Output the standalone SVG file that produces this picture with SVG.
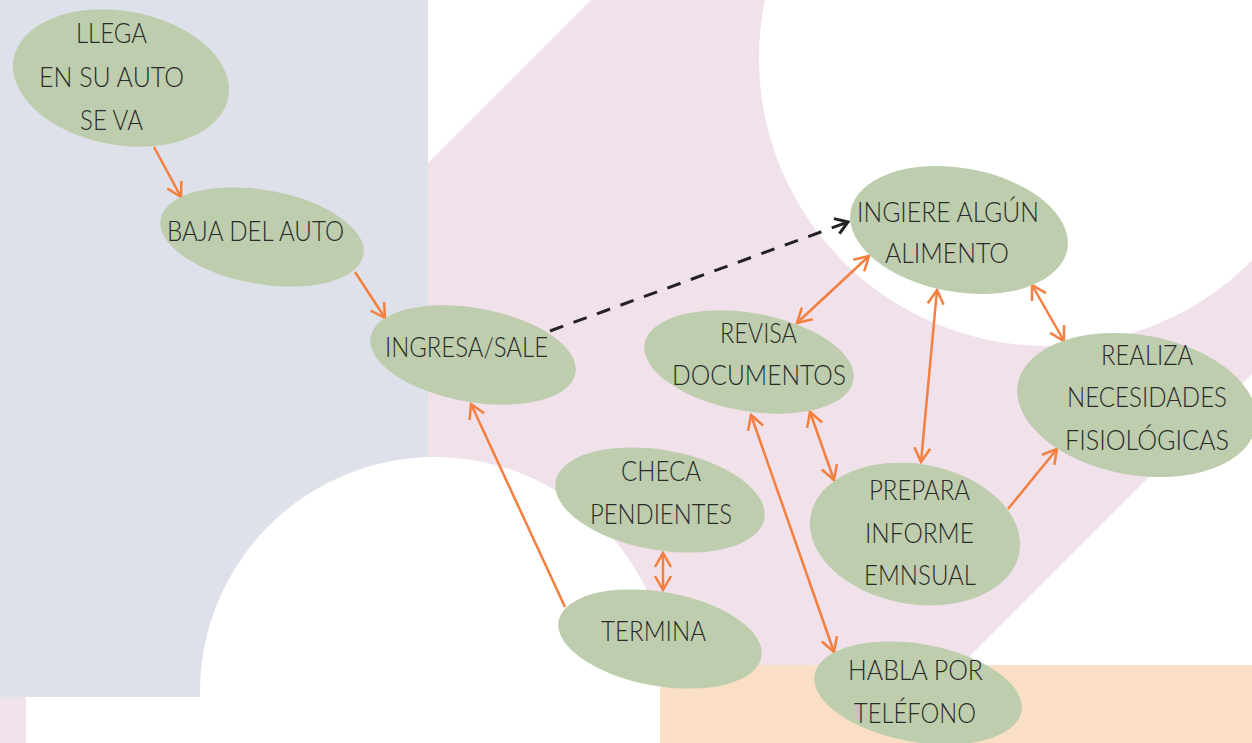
<svg xmlns="http://www.w3.org/2000/svg" width="1252" height="743" viewBox="0 0 1252 743">
<style>
.bg-blue{fill:#dee1ea}
.bg-pink{fill:#f1e1eb}
.bg-white{fill:#ffffff}
.bg-peach{fill:#fadfc6}
.node ellipse{fill:#bdcdad}
.node text{font-family:Lato,"Liberation Sans",sans-serif;font-weight:300;font-size:27px;fill:#2a2a2a;text-anchor:middle}
.conn{fill:none;stroke:#f47f3f;stroke-width:2.5}
.dash{fill:none;stroke:#222222;stroke-width:3;stroke-dasharray:14 11}
</style>
<defs>
<marker id="arr" viewBox="-17 -11 20 22" markerWidth="20" markerHeight="22" refX="0" refY="0" markerUnits="userSpaceOnUse" orient="auto-start-reverse">
<path d="M-14,-8 L0,0 L-14,8" fill="none" stroke="#f47f3f" stroke-width="2.5"/>
</marker>
<marker id="arrk" viewBox="-17 -11 20 22" markerWidth="20" markerHeight="22" refX="0" refY="0" markerUnits="userSpaceOnUse" orient="auto">
<path d="M-12,-8 L0,0 L-12,8" fill="none" stroke="#222222" stroke-width="3"/>
</marker>
</defs>
<g id="background">
<rect class="bg-white" x="0" y="0" width="1252" height="743"/>
<polygon class="bg-pink" points="591,0 1252,0 1252,374 883,743 0,743 0,591"/>
<rect class="bg-blue" x="0" y="0" width="428" height="697"/>
<circle class="bg-white" cx="1047" cy="58" r="288"/>
<circle class="bg-white" cx="435" cy="692" r="235"/>
<rect class="bg-white" x="26" y="697" width="640" height="46"/>
<rect class="bg-peach" x="660" y="665" width="592" height="78"/>
</g>
<g id="connectors">
<line class="conn" x1="154" y1="147" x2="181" y2="197" marker-end="url(#arr)"/>
<line class="conn" x1="355" y1="272" x2="385" y2="318" marker-end="url(#arr)"/>
<line class="dash" x1="550" y1="331" x2="848" y2="222" marker-end="url(#arrk)"/>
<line class="conn" x1="565" y1="607" x2="471" y2="404" marker-end="url(#arr)"/>
<line class="conn" x1="797" y1="323" x2="869" y2="256" marker-start="url(#arr)" marker-end="url(#arr)"/>
<line class="conn" x1="937" y1="290" x2="921" y2="462" marker-start="url(#arr)" marker-end="url(#arr)"/>
<line class="conn" x1="1032" y1="285" x2="1064" y2="341" marker-start="url(#arr)" marker-end="url(#arr)"/>
<line class="conn" x1="1008" y1="509" x2="1057" y2="449" marker-end="url(#arr)"/>
<line class="conn" x1="810" y1="412" x2="834" y2="480" marker-start="url(#arr)" marker-end="url(#arr)"/>
<line class="conn" x1="751" y1="415" x2="834" y2="652" marker-start="url(#arr)" marker-end="url(#arr)"/>
<line class="conn" x1="663" y1="553" x2="663" y2="590" marker-start="url(#arr)" marker-end="url(#arr)"/>
</g>
<g id="node-llega" class="node">
<ellipse cx="121" cy="78" rx="109" ry="67" transform="rotate(10 121 78)"/>
<text x="111.5" y="43" textLength="71" lengthAdjust="spacingAndGlyphs">LLEGA</text>
<text x="111.5" y="87" textLength="145" lengthAdjust="spacingAndGlyphs">EN SU AUTO</text>
<text x="111.5" y="130" textLength="63" lengthAdjust="spacingAndGlyphs">SE VA</text>
</g>
<g id="node-baja" class="node">
<ellipse cx="262" cy="237" rx="103" ry="47" transform="rotate(10 262 237)"/>
<text x="255.5" y="241" textLength="177" lengthAdjust="spacingAndGlyphs">BAJA DEL AUTO</text>
</g>
<g id="node-ingresa" class="node">
<ellipse cx="473" cy="355" rx="104" ry="47" transform="rotate(10 473 355)"/>
<text x="466.5" y="357" textLength="163" lengthAdjust="spacingAndGlyphs">INGRESA/SALE</text>
</g>
<g id="node-ingiere" class="node">
<ellipse cx="959" cy="230" rx="110" ry="62" transform="rotate(10 959 230)"/>
<text x="948" y="222" textLength="182" lengthAdjust="spacingAndGlyphs">INGIERE ALGÚN</text>
<text x="947" y="263" textLength="124" lengthAdjust="spacingAndGlyphs">ALIMENTO</text>
</g>
<g id="node-revisa" class="node">
<ellipse cx="749" cy="362" rx="106" ry="49" transform="rotate(10 749 362)"/>
<text x="758.5" y="343" textLength="77" lengthAdjust="spacingAndGlyphs">REVISA</text>
<text x="759" y="385" textLength="174" lengthAdjust="spacingAndGlyphs">DOCUMENTOS</text>
</g>
<g id="node-realiza" class="node">
<ellipse cx="1137" cy="405" rx="121" ry="70" transform="rotate(10 1137 405)"/>
<text x="1147" y="365" textLength="92" lengthAdjust="spacingAndGlyphs">REALIZA</text>
<text x="1147" y="407" textLength="160" lengthAdjust="spacingAndGlyphs">NECESIDADES</text>
<text x="1147" y="450" textLength="164" lengthAdjust="spacingAndGlyphs">FISIOLÓGICAS</text>
</g>
<g id="node-checa" class="node">
<ellipse cx="660" cy="500" rx="106" ry="50" transform="rotate(10 660 500)"/>
<text x="661" y="481" textLength="80" lengthAdjust="spacingAndGlyphs">CHECA</text>
<text x="661" y="524" textLength="142" lengthAdjust="spacingAndGlyphs">PENDIENTES</text>
</g>
<g id="node-termina" class="node">
<ellipse cx="660" cy="639" rx="103" ry="47" transform="rotate(10 660 639)"/>
<text x="653.5" y="641" textLength="105" lengthAdjust="spacingAndGlyphs">TERMINA</text>
</g>
<g id="node-prepara" class="node">
<ellipse cx="915" cy="534" rx="106" ry="70" transform="rotate(10 915 534)"/>
<text x="919.5" y="500" textLength="101" lengthAdjust="spacingAndGlyphs">PREPARA</text>
<text x="919.5" y="543" textLength="109" lengthAdjust="spacingAndGlyphs">INFORME</text>
<text x="920" y="585" textLength="112" lengthAdjust="spacingAndGlyphs">EMNSUAL</text>
</g>
<g id="node-habla" class="node">
<ellipse cx="918" cy="693" rx="105" ry="49" transform="rotate(10 918 693)"/>
<text x="915.5" y="680" textLength="135" lengthAdjust="spacingAndGlyphs">HABLA POR</text>
<text x="915" y="723" textLength="122" lengthAdjust="spacingAndGlyphs">TELÉFONO</text>
</g>
</svg>
